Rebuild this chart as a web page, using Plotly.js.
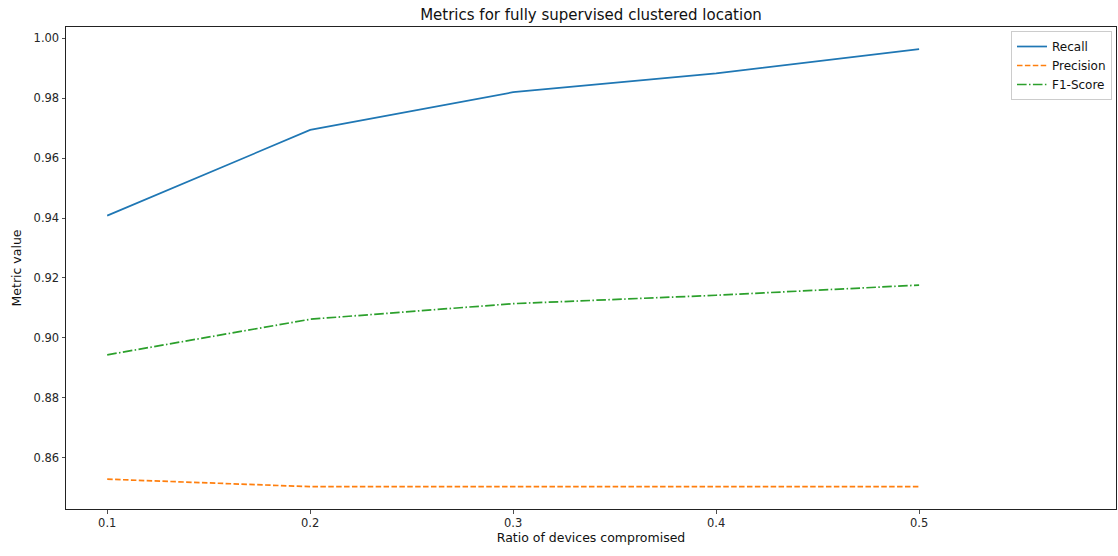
<!DOCTYPE html>
<html>
<head>
<meta charset="utf-8">
<script src="https://cdn.plot.ly/plotly-3.0.1.min.js"></script>
<style>html,body{margin:0;padding:0;background:#fff;}#chart{width:1118px;height:556px;}</style>
</head>
<body>
<div id="chart"></div>
<script>
const ratios = [0.1, 0.2, 0.3, 0.4, 0.5];
const recall = [0.9408, 0.9694, 0.9820, 0.9883, 0.9964];
const precision = [0.8528, 0.8503, 0.8503, 0.8503, 0.8503];
const f1score = [0.8943, 0.9062, 0.9114, 0.9142, 0.9176];
const xTicks = [0.1, 0.2, 0.3, 0.4, 0.5];
const xTickText = ['0.1', '0.2', '0.3', '0.4', '0.5'];
const yTicks = [0.86, 0.88, 0.90, 0.92, 0.94, 0.96, 0.98, 1.00];
const yTickText = ['0.86', '0.88', '0.90', '0.92', '0.94', '0.96', '0.98', '1.00'];

const font = 'DejaVu Sans, sans-serif';
const traces = [
  {x: ratios, y: recall, name: 'Recall', mode: 'lines', line: {color: '#1f77b4', width: 1.7}},
  {x: ratios, y: precision, name: 'Precision', mode: 'lines', line: {color: '#ff7f0e', width: 1.7, dash: '5.5px,2.4px'}},
  {x: ratios, y: f1score, name: 'F1-Score', mode: 'lines', line: {color: '#2ca02c', width: 1.7, dash: '9.6px,2.4px,1.5px,2.4px'}}
];
const layout = {
  width: 1118, height: 556,
  margin: {l: 66, r: 2, t: 27, b: 47},
  paper_bgcolor: '#fff', plot_bgcolor: '#fff',
  font: {family: font, size: 11.5, color: '#262626'},
  title: {text: 'Metrics for fully supervised clustered location', font: {family: font, size: 15, color: '#111'}, x: 0.5, xref: 'paper', xanchor: 'center', y: 0.973, yref: 'container', yanchor: 'middle'},
  showlegend: true,
  legend: {x: 0.9962, y: 0.9917, xanchor: 'right', yanchor: 'top', bgcolor: 'rgba(255,255,255,0.8)', bordercolor: '#cccccc', borderwidth: 1, font: {family: font, size: 12, color: '#111'}, tracegroupgap: 0},
  xaxis: {
    range: [0.0797, 0.597], tickvals: xTicks, ticktext: xTickText,
    showgrid: false, zeroline: false, showline: true, mirror: true, linecolor: '#222', linewidth: 1,
    ticks: 'outside', ticklen: 3.5, tickwidth: 0.8, tickcolor: '#222',
    tickfont: {family: font, size: 11.5, color: '#262626'},
    title: {text: 'Ratio of devices compromised', font: {family: font, size: 12.5, color: '#111'}, standoff: 3}
  },
  yaxis: {
    range: [0.84284, 1.00377], tickvals: yTicks, ticktext: yTickText,
    showgrid: false, zeroline: false, showline: true, mirror: true, linecolor: '#222', linewidth: 1,
    ticks: 'outside', ticklen: 3.5, tickwidth: 0.8, tickcolor: '#222',
    tickfont: {family: font, size: 11.5, color: '#262626'},
    title: {text: 'Metric value', font: {family: font, size: 12.5, color: '#111'}, standoff: 9}
  }
};
Plotly.newPlot('chart', traces, layout, {staticPlot: true, displayModeBar: false});
</script>
</body>
</html>
